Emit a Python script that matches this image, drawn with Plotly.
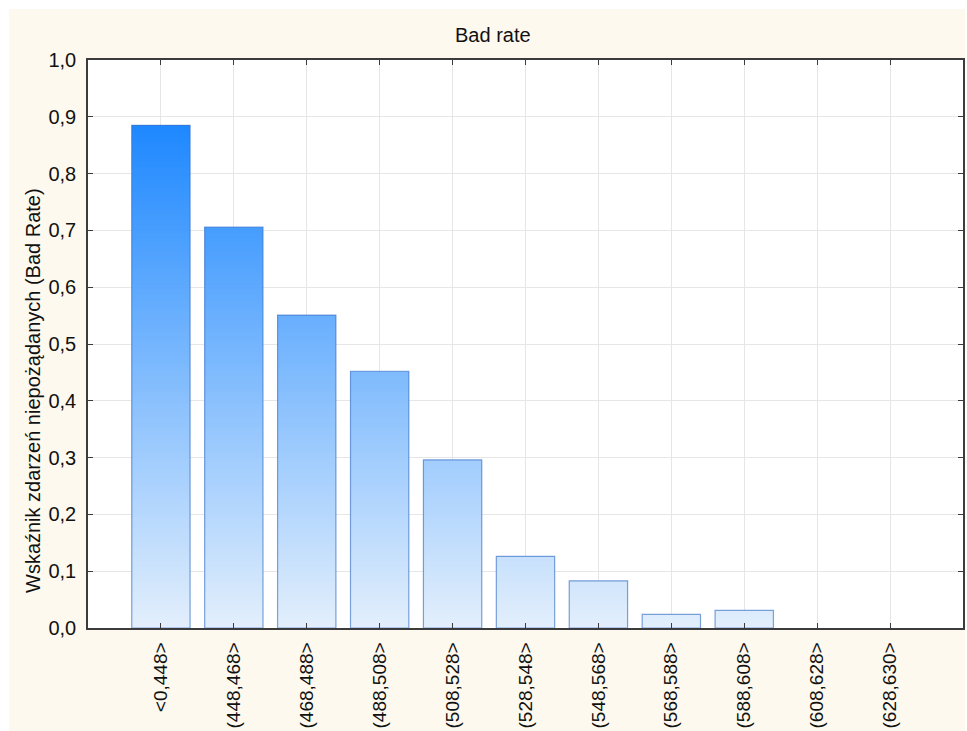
import math
import plotly.graph_objects as go

# Score bands and observed bad rate in each band
categories = [
    "<0,448>", "(448,468>", "(468,488>", "(488,508>", "(508,528>",
    "(528,548>", "(548,568>", "(568,588>", "(588,608>", "(608,628>", "(628,630>",
]
bad_rate = [0.885, 0.706, 0.551, 0.452, 0.296, 0.126, 0.083, 0.024, 0.031, 0.0, 0.0]
y_ticks = [0.0, 0.1, 0.2, 0.3, 0.4, 0.5, 0.6, 0.7, 0.8, 0.9, 1.0]

chart_title = "Bad rate"
y_title = "Wskaźnik zdarzeń niepożądanych (Bad Rate)"

# Vertical gradient: pale blue at zero, saturated blue at the tallest bar
LOW_RGB = (227, 239, 252)
HIGH_RGB = (30, 136, 255)
STEP = 0.004
OVERLAP = 0.003   # each slice reaches into the next to hide seams
BAR_WIDTH = 0.8
FONT = "Liberation Sans, Arial, sans-serif"

top = max(bad_rate)


def blend(t):
    t = max(0.0, min(1.0, t))
    r, g, b = (round(lo + (hi - lo) * t) for lo, hi in zip(LOW_RGB, HIGH_RGB))
    return f"rgb({r},{g},{b})"


seg_x, seg_base, seg_h, seg_col = [], [], [], []
for cat, v in zip(categories, bad_rate):
    n = math.ceil(v / STEP - 1e-9)
    for k in range(n):
        b0 = k * STEP
        h = min(STEP + OVERLAP, v - b0)
        seg_x.append(cat)
        seg_base.append(b0)
        seg_h.append(h)
        seg_col.append(blend((b0 + min(STEP, v - b0) / 2) / top))

fig = go.Figure()

# gradient fill built from thin stacked slices
fig.add_trace(go.Bar(
    x=seg_x, y=seg_h, base=seg_base, width=BAR_WIDTH,
    marker=dict(color=seg_col, line=dict(width=0)),
    hoverinfo="skip", showlegend=False,
))

# bar outlines (empty bands get no outline)
fig.add_trace(go.Bar(
    x=categories, y=[v if v > 0 else None for v in bad_rate], width=BAR_WIDTH,
    marker=dict(color="rgba(0,0,0,0)", line=dict(color="rgba(60,115,200,0.65)", width=1.2)),
    showlegend=False,
))

L, R, T, B = 88, 4, 60, 103
W, H = 967, 731
pw, ph = W - L - R, H - T - B


def px_to_paper_x(px):
    return (px - L) / pw


def px_to_paper_y(py):
    return (H - B - py) / ph


axis_common = dict(
    showline=True, linecolor="#3c3c3c", linewidth=1.6, mirror="ticks",
    ticks="inside", ticklen=5, tickwidth=1.4, tickcolor="#3c3c3c",
    showgrid=True, gridcolor="#e6e6e6", gridwidth=1,
    zeroline=False, automargin=False,
)

fig.update_layout(
    width=W, height=H,
    margin=dict(l=L, r=R, t=T, b=B),
    paper_bgcolor="white",
    plot_bgcolor="white",
    barmode="overlay",
    separators=", ",
    font=dict(family=FONT, size=20, color="#111111"),
    xaxis=dict(
        type="category", categoryorder="array", categoryarray=categories,
        range=[-1, len(categories)], tickangle=-90, ticklabelstandoff=5,
        tickfont=dict(family=FONT, size=19, color="#111111"),
        **axis_common,
    ),
    yaxis=dict(
        range=[0, 1], tickvals=y_ticks, tickformat=".1f", ticklabelstandoff=6,
        tickfont=dict(family=FONT, size=20, color="#111111"),
        **axis_common,
    ),
    shapes=[
        # cream panel behind the whole chart
        dict(type="rect", xref="paper", yref="paper", layer="below",
             x0=px_to_paper_x(9), x1=px_to_paper_x(965),
             y0=px_to_paper_y(731), y1=px_to_paper_y(9),
             fillcolor="#fdf9ef", line=dict(width=0)),
        # white plotting area
        dict(type="rect", xref="paper", yref="paper", layer="below",
             x0=0, x1=1, y0=0, y1=1,
             fillcolor="white", line=dict(width=0)),
    ],
    annotations=[
        dict(text=chart_title, xref="paper", yref="paper",
             x=px_to_paper_x(493), y=px_to_paper_y(35),
             xanchor="center", yanchor="middle", showarrow=False,
             font=dict(family=FONT, size=20, color="#111111")),
        dict(text=y_title, xref="paper", yref="paper",
             x=px_to_paper_x(33), y=px_to_paper_y(391),
             xanchor="center", yanchor="middle", textangle=-90, showarrow=False,
             font=dict(family=FONT, size=20, color="#111111")),
    ],
)

fig.write_html("out.html")
